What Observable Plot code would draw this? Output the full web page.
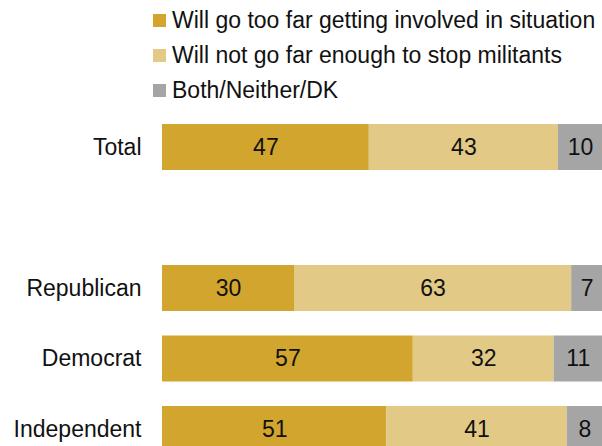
<!DOCTYPE html>
<html>
<head>
<meta charset="utf-8">
<script src="https://cdn.jsdelivr.net/npm/d3@7"></script>
<script src="https://cdn.jsdelivr.net/npm/@observablehq/plot@0.6"></script>
<style>
  html, body { margin: 0; padding: 0; background: #fff; overflow: hidden; }
  body { width: 602px; height: 446px; font-family: "Liberation Sans", Arial, sans-serif; }
  #legend { position: relative; height: 100px; }
  .item { position: absolute; left: 153px; display: flex; align-items: center; font-size: 23px; color: #111; white-space: nowrap; }
  .sw { width: 13px; height: 13px; margin-right: 6px; }
  #chart svg { display: block; }
</style>
</head>
<body>
<div id="legend"></div>
<div id="chart"></div>
<script>
const groups = ["Total", "Republican", "Democrat", "Independent"];
const responses = ["Will go too far getting involved in situation", "Will not go far enough to stop militants", "Both/Neither/DK"];
const colors = ["#d2a52f", "#e2c985", "#a5a5a5"];
const tooFar = [47, 30, 57, 51];
const notFarEnough = [43, 63, 32, 41];
const bothNeither = [10, 7, 11, 8];
const spacer = " ";
const yDomain = ["Total", spacer, "Republican", "Democrat", "Independent"];

// legend
const legend = document.getElementById("legend");
const legendTops = [20, 55, 90];
responses.forEach((r, i) => {
  const d = document.createElement("div");
  d.className = "item";
  d.style.top = (legendTops[i] - 14) + "px";
  d.style.height = "28px";
  const sw = document.createElement("span");
  sw.className = "sw";
  sw.style.background = colors[i];
  const t = document.createElement("span");
  t.textContent = r;
  d.appendChild(sw); d.appendChild(t);
  legend.appendChild(d);
});

const series = [tooFar, notFarEnough, bothNeither];
const data = [];
groups.forEach((g, gi) => {
  responses.forEach((r, ri) => {
    data.push({group: g, response: r, value: series[ri][gi]});
  });
});

const chart = Plot.plot({
  width: 602,
  height: 346,
  marginLeft: 162,
  marginRight: 0,
  marginTop: 0,
  marginBottom: 0,
  style: {fontFamily: "'Liberation Sans', Arial, sans-serif", fontSize: "23px", color: "#111", background: "transparent", overflow: "hidden"},
  x: {domain: [0, 100], axis: null},
  y: {domain: yDomain, range: [2.85, 373.15], round: false, paddingInner: 0.3475, paddingOuter: 0.3, label: null, tickSize: 0, tickPadding: 21, tickFormat: d => d === spacer ? "" : d},
  color: {domain: responses, range: colors},
  marks: [
    Plot.barX(data, Plot.stackX({x: "value", y: "group", fill: "response", order: null})),
    Plot.text(data, Plot.stackX({x: "value", y: "group", z: "response", order: null, text: d => String(d.value), fill: "#111", fontSize: 23}))
  ]
});
document.getElementById("chart").appendChild(chart);
</script>
</body>
</html>
